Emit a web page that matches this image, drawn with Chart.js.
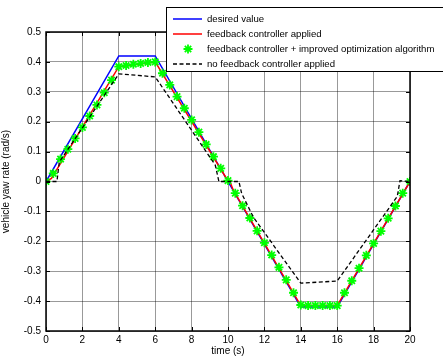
<!DOCTYPE html>
<html>
<head>
<meta charset="utf-8">
<script src="https://cdn.jsdelivr.net/npm/chart.js@4/dist/chart.umd.min.js"></script>
<style>
  html, body { margin: 0; padding: 0; background: #fff; }
  #wrap { width: 443px; height: 358px; }
</style>
</head>
<body>
<div id="wrap"><canvas id="yawChart"></canvas></div>
<script>
// desired yaw rate
const desiredT = [0, 4, 6, 14, 16, 20];
const desiredV = [0, 0.42, 0.42, -0.42, -0.42, 0];

// feedback controller applied
const feedbackT = [0, 0.3, 4, 6, 9.9, 10.1, 10.3, 14, 16, 20];
const feedbackV = [0, 0.01, 0.384, 0.400, 0.012, 0.0, -0.03, -0.415, -0.415, 0];

// feedback controller + improved optimization algorithm (markers)
const improvedT = [0, 0.4, 0.8, 1.2, 1.6, 2.0, 2.4, 2.8, 3.2, 3.6,
                   4.0, 4.4, 4.8, 5.2, 5.6, 6.0, 6.4, 6.8, 7.2, 7.6,
                   8.0, 8.4, 8.8, 9.2, 9.6, 10.0, 10.4, 10.8, 11.2, 11.6,
                   12.0, 12.4, 12.8, 13.2, 13.6, 14.0, 14.4, 14.8, 15.2, 15.6,
                   16.0, 16.4, 16.8, 17.2, 17.6, 18.0, 18.4, 18.8, 19.2, 19.6, 20.0];
const improvedV = [0, 0.027, 0.075, 0.108, 0.144, 0.181, 0.219, 0.256, 0.297, 0.339,
                   0.384, 0.388, 0.392, 0.395, 0.398, 0.400, 0.362, 0.323, 0.284, 0.245,
                   0.206, 0.165, 0.124, 0.083, 0.044, 0.003, -0.039, -0.081, -0.122, -0.165,
                   -0.205, -0.246, -0.287, -0.329, -0.372, -0.413, -0.415, -0.415, -0.415, -0.415,
                   -0.415, -0.372, -0.332, -0.290, -0.247, -0.207, -0.166, -0.123, -0.082, -0.039, 0];

// no feedback controller applied
const noFeedbackT = [0, 0.6, 0.73, 4, 6, 9.3, 9.5, 10.6, 10.75, 11.4, 14, 16, 19.3, 19.45, 20];
const noFeedbackV = [0, 0, 0.065, 0.36, 0.35, 0.055, 0.0, 0.0, -0.04, -0.12, -0.34, -0.333, -0.05, 0.003, 0];

const xTicks = [0, 2, 4, 6, 8, 10, 12, 14, 16, 18, 20];
const yTicks = [-0.5, -0.4, -0.3, -0.2, -0.1, 0, 0.1, 0.2, 0.3, 0.4, 0.5];

const toPts = (t, v) => t.map((x, i) => ({ x: x, y: v[i] }));
const FONT = 'Arial, "Liberation Sans", sans-serif';

// box round the plot plus inward tick marks, like matlab
const boxPlugin = {
    id: 'box',
    afterDraw(chart) {
        const { ctx, chartArea: a, scales } = chart;
        ctx.save();
        ctx.strokeStyle = '#000';
        ctx.lineWidth = 1;
        ctx.beginPath();
        xTicks.forEach(t => {
            const px = Math.round(scales.x.getPixelForValue(t)) + 0.5;
            ctx.moveTo(px, a.bottom); ctx.lineTo(px, a.bottom - 4);
            ctx.moveTo(px, a.top); ctx.lineTo(px, a.top + 4);
        });
        yTicks.forEach(t => {
            const py = Math.round(scales.y.getPixelForValue(t)) + 0.5;
            ctx.moveTo(a.left, py); ctx.lineTo(a.left + 4, py);
            ctx.moveTo(a.right, py); ctx.lineTo(a.right - 4, py);
        });
        ctx.stroke();
        ctx.lineWidth = 1.5;
        ctx.strokeRect(a.left, a.top, a.right - a.left, a.bottom - a.top);
        ctx.restore();
    }
};

// legend box in the top right, partly outside the canvas
const legendPlugin = {
    id: 'boxLegend',
    afterDraw(chart) {
        const ctx = chart.ctx;
        const x0 = 166, y0 = 7, w = 290, rowH = 15;
        const ds = chart.data.datasets;
        ctx.save();
        ctx.fillStyle = '#fff';
        ctx.fillRect(x0, y0, w, rowH * ds.length + 4);
        ctx.strokeStyle = '#000';
        ctx.lineWidth = 1;
        ctx.strokeRect(x0 + 0.5, y0 + 0.5, w, rowH * ds.length + 4);
        ctx.font = '9.6px ' + FONT;
        ctx.textBaseline = 'middle';
        ds.forEach((d, i) => {
            const y = y0 + 12 + i * rowH;
            if (d.showLine === false) {
                ctx.strokeStyle = d.pointBorderColor;
                ctx.lineWidth = 1.8;
                const cx = 188, r = 4.5;
                ctx.beginPath();
                for (let k = 0; k < 4; k++) {
                    const ang = k * Math.PI / 4;
                    ctx.moveTo(cx + r * Math.cos(ang), y + r * Math.sin(ang));
                    ctx.lineTo(cx - r * Math.cos(ang), y - r * Math.sin(ang));
                }
                ctx.stroke();
            } else {
                ctx.strokeStyle = d.borderColor;
                ctx.lineWidth = d.borderWidth;
                ctx.setLineDash(d.borderDash || []);
                ctx.beginPath();
                ctx.moveTo(173, y); ctx.lineTo(202, y);
                ctx.stroke();
                ctx.setLineDash([]);
            }
            ctx.fillStyle = '#000';
            ctx.fillText(d.label, 207, y);
        });
        ctx.restore();
    }
};

new Chart(document.getElementById('yawChart'), {
    type: 'line',
    data: {
        datasets: [{
            label: 'desired value',
            data: toPts(desiredT, desiredV),
            borderColor: '#0000ff',
            borderWidth: 1.5,
            pointRadius: 0,
            order: 3
        }, {
            label: 'feedback controller applied',
            data: toPts(feedbackT, feedbackV),
            borderColor: '#ff0000',
            borderWidth: 1.5,
            pointRadius: 0,
            order: 2
        }, {
            label: 'feedback controller + improved optimization algorithm',
            data: toPts(improvedT, improvedV),
            showLine: false,
            pointStyle: 'star',
            pointRadius: 4.5,
            pointBorderWidth: 1.8,
            pointBorderColor: '#00ff00',
            pointBackgroundColor: '#00ff00',
            order: 1
        }, {
            label: 'no feedback controller applied',
            data: toPts(noFeedbackT, noFeedbackV),
            borderColor: '#000',
            borderWidth: 1.3,
            borderDash: [4, 2.5],
            pointRadius: 0,
            order: 0
        }]
    },
    options: {
        responsive: true,
        maintainAspectRatio: false,
        animation: false,
        layout: { padding: { top: 32, right: 33, left: 0, bottom: 0 } },
        plugins: {
            legend: { display: false },
            tooltip: { enabled: false }
        },
        scales: {
            x: {
                type: 'linear',
                min: 0, max: 20,
                afterFit: s => { s.height = 27; },
                afterBuildTicks: s => { s.ticks = xTicks.map(v => ({ value: v })); },
                ticks: { color: '#000', font: { family: FONT, size: 10 }, padding: 3, maxRotation: 0 },
                grid: { color: 'rgba(0,0,0,0.4)', drawTicks: false },
                border: { display: false },
                title: { display: true, text: 'time (s)', color: '#000', font: { family: FONT, size: 10 }, padding: { top: 0, bottom: 1 } }
            },
            y: {
                type: 'linear',
                min: -0.5, max: 0.5,
                afterFit: s => { s.width = 46; },
                afterBuildTicks: s => { s.ticks = yTicks.map(v => ({ value: v })); },
                ticks: {
                    color: '#000', font: { family: FONT, size: 10 }, padding: 5,
                    callback: v => Math.abs(v) < 1e-9 ? '0' : v.toFixed(1)
                },
                grid: { color: 'rgba(0,0,0,0.4)', drawTicks: false },
                border: { display: false },
                title: { display: true, text: 'vehicle yaw rate (rad/s)', color: '#000', font: { family: FONT, size: 10 }, padding: { top: 0, bottom: 0 } }
            }
        }
    },
    plugins: [boxPlugin, legendPlugin]
});
</script>
</body>
</html>
